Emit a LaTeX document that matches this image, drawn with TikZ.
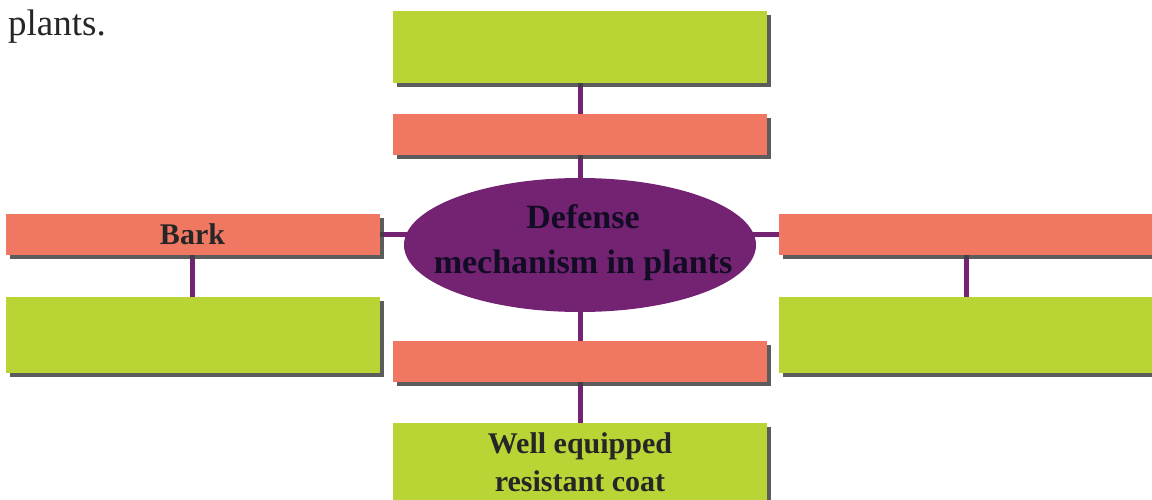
\documentclass[tikz,border=0pt]{standalone}
\usepackage{fontspec}
\setmainfont{Liberation Serif}
\usetikzlibrary{shapes.geometric,shadows,backgrounds}
\definecolor{leafgreen}{HTML}{B8D535}
\definecolor{salmon}{HTML}{F07862}
\definecolor{plum}{HTML}{742373}
\definecolor{inkdark}{HTML}{120C24}

\begin{document}
\begin{tikzpicture}[x=1pt,y=-1pt,
    box/.style={rectangle,inner sep=0pt,text=black!85,align=center,
        font=\bfseries\fontsize{30}{38}\selectfont,
        drop shadow={shadow xshift=4pt,shadow yshift=-4pt,fill=black!75,opacity=.85}},
    greenbox/.style={box,fill=leafgreen,minimum width=374pt,minimum height=76pt},
    redbox/.style={box,fill=salmon,minimum width=374pt,minimum height=41pt},
    link/.style={plum,line width=5pt}]
            \useasboundingbox (0,0) rectangle (1152,500);
            \clip (0,0) rectangle (1152,500);

            \node[anchor=base west,inner sep=0pt,text=black!85,font=\fontsize{37}{44}\selectfont] (caption) at (8,36) {plants.};

            \node[greenbox,minimum height=72pt] (topgreen) at (580,47) {};
            \node[redbox] (topred) at (580,134.5) {};

            \node[ellipse,fill=plum,inner sep=0pt,minimum width=352pt,minimum height=134pt] (defense) at (580,245) {};
            \node[inner sep=0pt,text=inkdark,align=center,font=\bfseries\fontsize{34}{45}\selectfont] (defenselabel) at (583,243) {Defense\\mechanism in plants};

            \node[redbox] (bark) at (192.5,234.5) {Bark};
            \node[greenbox] (leftgreen) at (192.5,335) {};

            \node[redbox] (rightred) at (966,234.5) {};
            \node[greenbox] (rightgreen) at (966,335) {};

            \node[redbox] (botred) at (580,361.5) {};
            \node[greenbox,minimum height=92pt] (botgreen) at (580,469) {};
            \node[inner sep=0pt,text=black!85,align=center,font=\bfseries\fontsize{30}{38}\selectfont,anchor=north] (coatlabel) at (580,432) {Well equipped\\resistant coat};

            \begin{scope}[on background layer]
            \draw[link] (topgreen) -- (topred);
            \draw[link] (topred) -- (defense);
            \draw[link] (defense) -- (botred);
            \draw[link] (botred) -- (botgreen);
            \draw[link] (bark) -- (bark -| defense);
            \draw[link] (bark) -- (leftgreen);
            \draw[link] (rightred) -- (rightred -| defense);
            \draw[link] (rightred) -- (rightgreen);
            \end{scope}

            \end{tikzpicture}
\end{document}
